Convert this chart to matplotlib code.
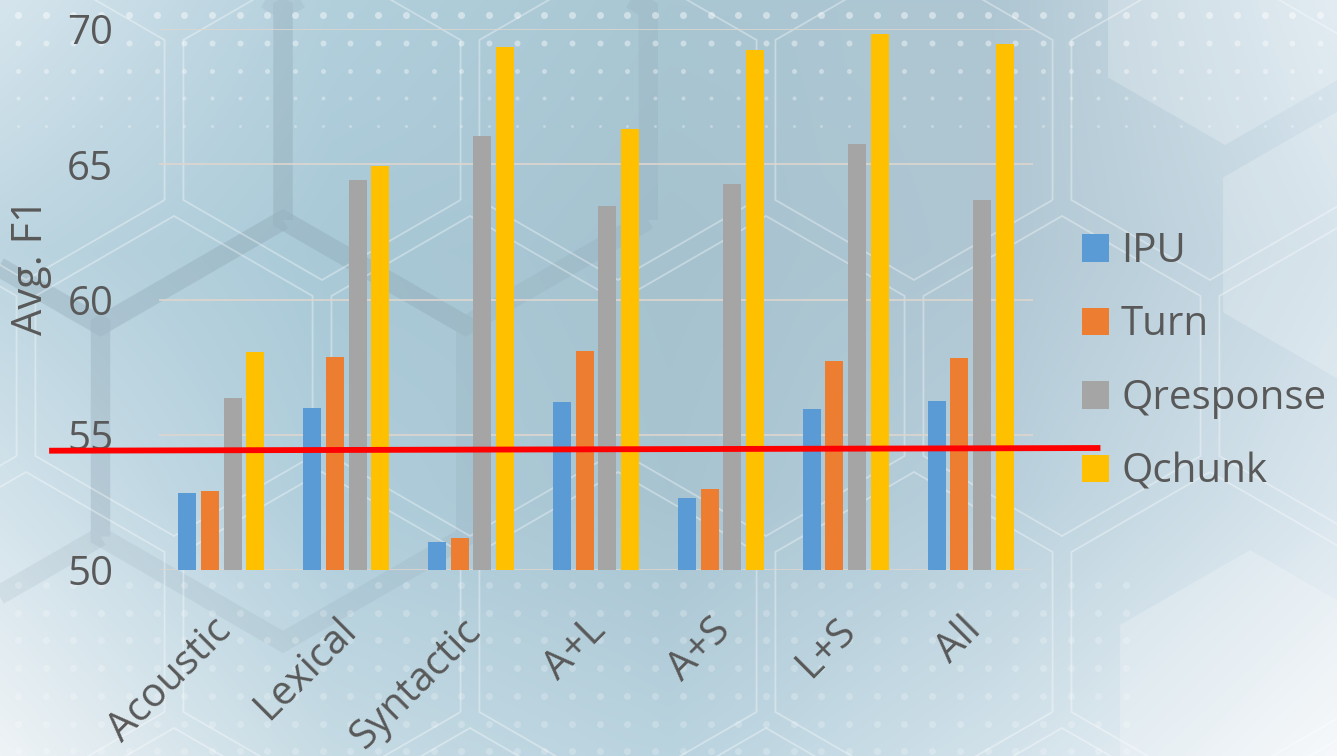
import numpy as np
import matplotlib
matplotlib.use("Agg")
import matplotlib.pyplot as plt
from matplotlib.patches import Polygon
from matplotlib.colors import to_rgb
from matplotlib.transforms import ScaledTranslation

plt.rcParams['font.family'] = ['Open Sans', 'DejaVu Sans']

# ---- data -------------------------------------------------------------
categories = ["Acoustic", "Lexical", "Syntactic", "A+L", "A+S", "L+S", "All"]
ipu = [52.85, 55.98, 51.04, 56.21, 52.66, 55.95, 56.25]
turn = [52.91, 57.87, 51.18, 58.08, 52.98, 57.73, 57.84]
qresponse = [56.36, 64.42, 66.04, 63.46, 64.27, 65.75, 63.68]
qchunk = [58.07, 64.95, 69.35, 66.29, 69.24, 69.81, 69.45]
series_names = ["IPU", "Turn", "Qresponse", "Qchunk"]
y_ticks = [50, 55, 60, 65, 70]
reference_level = [54.41, 54.51]   # left / right end of the red reference line

# ---- styling ----------------------------------------------------------
series_colors = ["#5B9BD5", "#ED7D31", "#A5A5A5", "#FFC000"]
text_color = "#595959"
W, H = 1337, 756

fig = plt.figure(figsize=(W / 100, H / 100), dpi=100)

# ---- decorative background -------------------------------------------
bg = fig.add_axes([0, 0, 1, 1], zorder=0)
bg.set_xlim(0, W)
bg.set_ylim(H, 0)
bg.axis("off")

anchor_x = [0, 330, 670, 1000, W]
anchor_y = [0, 250, 500, H]
anchor_cols = [
    ["#d6e5ed", "#b2cfdc", "#a9c6d3", "#afc7d3", "#dbe7ef"],
    ["#bcd5e0", "#a9c9d7", "#a6c2cf", "#b0c7d3", "#cddde7"],
    ["#d3e3eb", "#afcddb", "#a8c4d1", "#b8d0dc", "#dae6ee"],
    ["#eef3f6", "#c6dbe4", "#b9d3df", "#d2e2ea", "#f4f7fa"],
]
anc = np.array([[to_rgb(c) for c in row] for row in anchor_cols])
gx = np.linspace(0, W, 268)
gy = np.linspace(0, H, 152)
tmp = np.stack([np.stack([np.interp(gx, anchor_x, anc[r, :, k]) for k in range(3)], -1)
                for r in range(len(anchor_y))])
img = np.stack([np.stack([np.interp(gy, anchor_y, tmp[:, c, k]) for k in range(3)], -1)
                for c in range(len(gx))], 1)
bg.imshow(img, extent=[0, W, H, 0], interpolation="bilinear", aspect="auto", zorder=0)


def hexagon(cx, cy, r):
    ang = np.deg2rad(np.arange(6) * 60 + 30)
    return np.column_stack([cx + r * np.cos(ang), cy + r * np.sin(ang)])


# broad translucent bands of a large hex lattice (left half only)
Rb = 211
for cx, cy in [(283, 431), (100.5, 114.5), (465.5, 114.5), (-82, 431)]:
    bg.add_patch(Polygon(hexagon(cx, cy, Rb), closed=True, fill=False,
                         edgecolor="#7d93a2", alpha=0.13, lw=14, zorder=1))

# light hexagon tiles on the right
for cx, cy, r in [(1225, 10, 135), (1340, 245, 135), (1250, 700, 150)]:
    bg.add_patch(Polygon(hexagon(cx, cy, r), closed=True, facecolor="white",
                         edgecolor="none", alpha=0.22, zorder=1))

# thin hex outline lattice
Rs = 160
for row, cy in enumerate([120, 376, 632, 888]):
    x0 = 322 if row % 2 == 0 else 174
    for k in range(-2, 6):
        bg.add_patch(Polygon(hexagon(x0 + 296 * k, cy, Rs), closed=True, fill=False,
                             edgecolor="white", alpha=0.35, lw=1.3, zorder=2))

# dot bands
dot_x = np.arange(18, W, 27.7)
for y, d, a in zip([15, 43, 71, 98, 126], [7, 6, 5, 4, 3], [0.45, 0.42, 0.38, 0.34, 0.3]):
    bg.scatter(dot_x, np.full_like(dot_x, y), s=(d * 0.72) ** 2, color="white",
               alpha=a, lw=0, zorder=2)
for y in np.arange(585, H, 27.7):
    xs = dot_x[dot_x < 1150]
    bg.scatter(xs, np.full_like(xs, y), s=(7 * 0.72) ** 2, color="white",
               alpha=0.22, lw=0, zorder=2)

# ---- chart -------------------------------------------------------------
ax = fig.add_axes([159 / W, 1 - 570 / H, (1033 - 159) / W, (570 - 29) / H], zorder=2)
ax.set_facecolor("none")

x = np.arange(len(categories))
bar_w = 0.144
step = 0.1813
for i, (name, vals, col) in enumerate(zip(series_names, [ipu, turn, qresponse, qchunk],
                                          series_colors)):
    ax.bar(x + (i - 1.5) * step, vals, width=bar_w, color=col, label=name, zorder=3)

ax.set_xlim(-0.5, len(categories) - 0.5)
ax.set_ylim(50, 70)
ax.set_yticks(y_ticks)
ax.yaxis.grid(True, color="#ddd6cf", lw=1.2)
ax.set_axisbelow(True)
for s in ax.spines.values():
    s.set_visible(False)
ax.tick_params(axis="both", length=0, labelsize=29, labelcolor=text_color)
ax.tick_params(axis="y", pad=33)
ax.tick_params(axis="x", pad=29)
ax.set_xticks(x)
ax.set_xticklabels(categories, rotation=45, ha="right", va="top", rotation_mode="anchor")
shift = ScaledTranslation(-10 / 100, 0, fig.dpi_scale_trans)
for lbl in ax.get_xticklabels():
    lbl.set_transform(lbl.get_transform() + shift)

fig.text(31 / W, 1 - 267 / H, "Avg. F1", rotation=90, ha="center", va="center",
         fontsize=30, color=text_color)

# red reference line, running past both ends of the plot
ax.plot([-1.38, 7.04], reference_level, color="#FF0000", lw=4.2,
        solid_capstyle="butt", clip_on=False, zorder=6)

ax.legend(loc="center left", bbox_to_anchor=(1082 / W, 1 - 362 / H),
          bbox_transform=fig.transFigure, frameon=False, fontsize=29,
          labelcolor=text_color, handlelength=0.67, handleheight=0.67,
          handletextpad=0.3, labelspacing=0.82, borderpad=0, borderaxespad=0)

fig.savefig("out.png", dpi=100)
